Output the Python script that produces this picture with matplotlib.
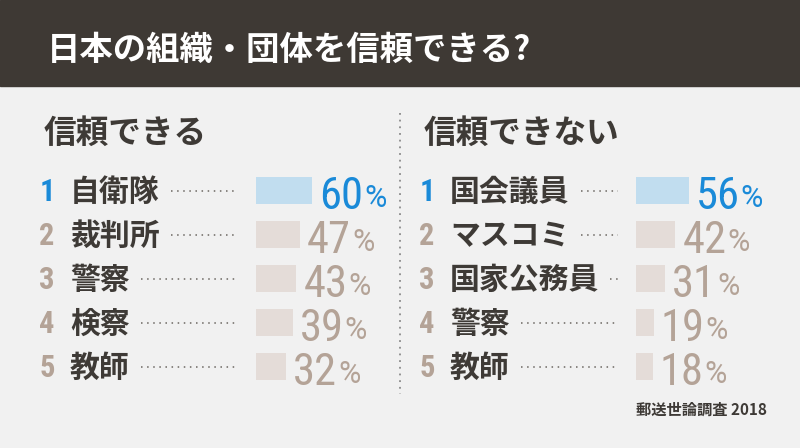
import matplotlib.pyplot as plt

title = '日本の組織・団体を信頼できる?'
source = '郵送世論調査 2018'

trust_heading = '信頼できる'
trust_labels = ['自衛隊', '裁判所', '警察', '検察', '教師']
trust_values = [60, 47, 43, 39, 32]

distrust_heading = '信頼できない'
distrust_labels = ['国会議員', 'マスコミ', '国家公務員', '警察', '教師']
distrust_values = [56, 42, 31, 19, 18]

BG = '#f1f1f1'
DARK = '#3e3a36'
BLUE = '#1a8ad8'
BLUE_BAR = '#c1ddef'
TAN = '#b4a397'
TAN_BAR = '#e4dcd8'

CJK = ['Noto Sans CJK JP', 'DejaVu Sans']
NUM = ['Roboto Condensed', 'Roboto', 'DejaVu Sans']
PCT = ['Roboto', 'DejaVu Sans']

fig = plt.figure(figsize=(8, 4.48), dpi=100, facecolor=BG)
ax = fig.add_axes([0, 0, 1, 1])
ax.set_xlim(0, 800)
ax.set_ylim(448, 0)
ax.axis('off')

# header band
ax.add_patch(plt.Rectangle((0, 0), 800, 86, color='#3e3934', zorder=0))
ax.text(47, 50, title, color='white', fontsize=24, fontweight='bold',
        family=CJK, va='center', ha='left')

# divider
ax.plot([400, 400], [113, 394], color='#8a8a8a', lw=1.3,
        linestyle=(0, (1, 2.7)))

ax.text(767, 410, source, color=DARK, fontsize=11, fontweight='bold',
        family=CJK, va='center', ha='right')

row_y = [191 + 44 * i for i in range(5)]
px_per_pct = 0.94


def panel(x0, heading, labels, values):
    ax.text(x0 - 1, 133, heading, color=DARK, fontsize=23.5, fontweight='bold',
            family=CJK, va='center', ha='left')
    bar_x = x0 + 211
    lead_end = x0 + 193
    colors = [BLUE_BAR] + [TAN_BAR] * (len(values) - 1)
    ax.barh(row_y, [v * px_per_pct for v in values], left=bar_x,
            height=27, color=colors)
    fig.canvas.draw()
    r = fig.canvas.get_renderer()
    for i, (lab, v, y) in enumerate(zip(labels, values, row_y)):
        c = BLUE if i == 0 else TAN
        ax.text(x0 + 2, y + 1, str(i + 1), color=c, fontsize=22,
                fontweight='bold', family=NUM, va='center', ha='center')
        t = ax.text(x0 + 25, y + 1, lab, color=DARK, fontsize=21.5,
                    fontweight='bold', family=CJK, va='center', ha='left')
        ex = t.get_window_extent(r)
        ax.plot([ex.x1 + 11, lead_end], [y, y], color='#6b6661', lw=1.1,
                linestyle=(0, (1, 3)))
        nx = bar_x + v * px_per_pct + 7
        n = ax.text(nx, y + 18, str(v), color=c, fontsize=32,
                    fontweight='normal', family=NUM, va='baseline', ha='left')
        ne = n.get_window_extent(r)
        ax.text(ne.x1 + 1, y + 16, '%', color=c, fontsize=22,
                family=PCT, va='baseline', ha='left')


panel(45, trust_heading, trust_labels, trust_values)
panel(425, distrust_heading, distrust_labels, distrust_values)

fig.savefig('out.png', dpi=100, facecolor=BG)
